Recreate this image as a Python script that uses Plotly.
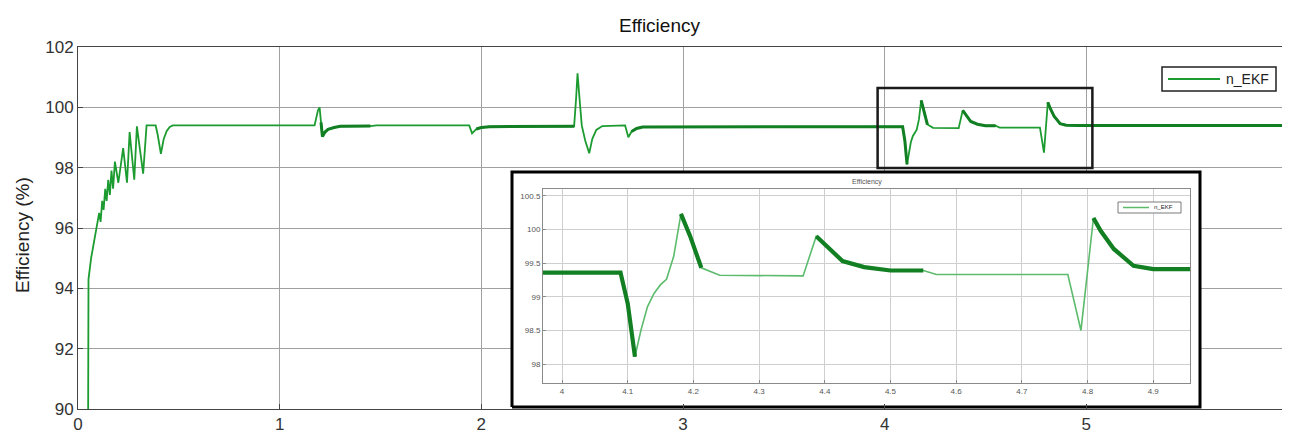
import plotly.graph_objects as go

# ---------------- data ----------------
time_s = [0.050, 0.052, 0.065, 0.080, 0.095, 0.105, 0.112, 0.120, 0.127, 0.135,
          0.142, 0.150, 0.158, 0.166, 0.174, 0.183, 0.200, 0.224, 0.243, 0.256,
          0.279, 0.292, 0.323, 0.340, 0.385, 0.395, 0.411, 0.425, 0.440, 0.455,
          0.470, 1.173, 1.190, 1.198, 1.205, 1.212, 1.225, 1.240, 1.270, 1.300,
          1.450, 1.480, 1.940, 1.954, 1.975, 2.000, 2.040, 2.460, 2.470, 2.477,
          2.488, 2.498, 2.515, 2.535, 2.550, 2.570, 2.600, 2.713, 2.729, 2.745,
          2.770, 2.800, 4.089, 4.100, 4.111, 4.120, 4.130, 4.140, 4.150, 4.159,
          4.170, 4.181, 4.195, 4.212, 4.240, 4.367, 4.387, 4.400, 4.427, 4.460,
          4.500, 4.550, 4.570, 4.770, 4.790, 4.809, 4.820, 4.840, 4.870, 4.900,
          4.960, 6.000]

efficiency = [89.0, 94.3, 95.0, 95.6, 96.1, 96.5, 96.2, 96.9, 96.6, 97.3,
              96.9, 97.6, 97.1, 97.9, 97.3, 98.2, 97.5, 98.65, 97.5, 99.18,
              97.6, 99.37, 97.8, 99.4, 99.4, 99.1, 98.46, 98.95, 99.22, 99.35,
              99.4, 99.4, 99.9, 100.0, 99.5, 99.03, 99.18, 99.27, 99.33, 99.37,
              99.38, 99.4, 99.4, 99.14, 99.28, 99.33, 99.36, 99.37, 100.3, 101.13,
              100.2, 99.4, 98.9, 98.48, 98.95, 99.25, 99.38, 99.4, 99.01, 99.2,
              99.3, 99.35, 99.36, 98.9, 98.11, 98.5, 98.85, 99.05, 99.18, 99.26,
              99.6, 100.23, 99.9, 99.43, 99.32, 99.31, 99.9, 99.78, 99.53, 99.44,
              99.39, 99.39, 99.33, 99.33, 98.5, 100.17, 99.98, 99.71, 99.46, 99.41,
              99.4, 99.4]

# 1 = segment where the signal carries visible ripple (drawn as a thick band)
noisy = [0, 0, 0, 0, 0, 0, 0, 0, 0, 0,
         0, 0, 0, 0, 0, 0, 0, 0, 0, 0,
         0, 0, 0, 0, 0, 0, 0, 0, 0, 0,
         0, 0, 0, 0, 1, 1, 1, 1, 1, 1,
         1, 0, 0, 0, 1, 1, 1, 1, 0, 0,
         0, 0, 0, 0, 0, 0, 0, 0, 0, 1,
         1, 1, 1, 1, 1, 0, 0, 0, 0, 0,
         0, 1, 1, 1, 0, 0, 1, 1, 1, 1,
         1, 1, 0, 0, 0, 1, 1, 1, 1, 1,
         1, 1]

main_xticks = [0, 1, 2, 3, 4, 5, 6]
main_yticks = [90, 92, 94, 96, 98, 100, 102]
inset_xticks = [4.0, 4.1, 4.2, 4.3, 4.4, 4.5, 4.6, 4.7, 4.8, 4.9]
inset_xtext = ["4", "4.1", "4.2", "4.3", "4.4", "4.5", "4.6", "4.7", "4.8", "4.9"]
inset_yticks = [98, 98.5, 99, 99.5, 100, 100.5]
inset_ytext = ["98", "98.5", "99", "99.5", "100", "100.5"]

series_name = "n_EKF"
title_text = "Efficiency"
ylabel_text = "Efficiency (%)"

# ---------------- layout geometry ----------------
# page body adds an 8 px offset; positions below are given in screen pixels
OFF = 8
W, H = 1290, 432
PLOT_L, PLOT_R, PLOT_T, PLOT_B = 78, 1288, 47, 409   # screen px
PW, PH = PLOT_R - PLOT_L, PLOT_B - PLOT_T
ML = PLOT_L - OFF
MT = PLOT_T - OFF
MR = W - ML - PW
MB = H - MT - PH

X_RANGE = [0, 6]
Y_RANGE = [90, 102]
INSET_X_RANGE = [3.971, 4.956]
INSET_Y_RANGE = [97.72, 100.6]
ZOOM_BOX = dict(x0=3.965, x1=5.03, y0=97.99, y1=100.64)


def fx(px):
    return (px - PLOT_L) / PW


def fy(py):
    return (PLOT_B - py) / PH


def to_main_x(px):
    return X_RANGE[0] + fx(px) * (X_RANGE[1] - X_RANGE[0])


def to_main_y(py):
    return Y_RANGE[0] + fy(py) * (Y_RANGE[1] - Y_RANGE[0])


thick = [v if n else None for v, n in zip(efficiency, noisy)]

GREEN = "#1c9c30"
DARK_GREEN = "#117f22"
LIGHT_GREEN = "#5cbb6c"

fig = go.Figure()

# main series
fig.add_trace(go.Scatter(x=time_s, y=efficiency, mode="lines", name=series_name,
                         line=dict(color=GREEN, width=1.8), xaxis="x", yaxis="y",
                         showlegend=False, hoverinfo="skip"))
fig.add_trace(go.Scatter(x=time_s, y=thick, mode="lines", connectgaps=False,
                         line=dict(color=DARK_GREEN, width=3.0), xaxis="x", yaxis="y",
                         showlegend=False, hoverinfo="skip"))

# white framed panel that holds the inset (in main-axis coordinates)
bx0, bx1 = to_main_x(512), to_main_x(1200)
by0, by1 = to_main_y(407), to_main_y(172)
fig.add_trace(go.Scatter(x=[bx0, bx1, bx1, bx0, bx0], y=[by0, by0, by1, by1, by0],
                         mode="lines", fill="toself", fillcolor="white",
                         line=dict(color="black", width=3), xaxis="x", yaxis="y",
                         showlegend=False, hoverinfo="skip"))

# inset series
fig.add_trace(go.Scatter(x=time_s, y=efficiency, mode="lines", name=series_name,
                         line=dict(color=LIGHT_GREEN, width=1.6), xaxis="x2", yaxis="y2",
                         showlegend=False, hoverinfo="skip"))
fig.add_trace(go.Scatter(x=time_s, y=thick, mode="lines", connectgaps=False,
                         line=dict(color=DARK_GREEN, width=4.2), xaxis="x2", yaxis="y2",
                         showlegend=False, hoverinfo="skip"))

FONT = "Liberation Sans, Arial, sans-serif"

# legends (boxes drawn to the reference's compact size)
LG1 = dict(x0=1162, x1=1276, y0=67, y1=91, line=52, gap=4, font=14,
           border="#222", bw=1.5, color=GREEN, lw=2)
LG2 = dict(x0=1118, x1=1181, y0=202, y1=213, line=26, gap=3, font=6,
           border="#7a7a7a", bw=1, color=LIGHT_GREEN, lw=1.5)

shapes = [
    dict(type="rect", xref="x", yref="y",
         x0=ZOOM_BOX["x0"], x1=ZOOM_BOX["x1"], y0=ZOOM_BOX["y0"], y1=ZOOM_BOX["y1"],
         line=dict(color="#1a1a1a", width=2.5), layer="above"),
]
legend_notes = []
for lg in (LG1, LG2):
    ymid = (lg["y0"] + lg["y1"]) / 2
    shapes.append(dict(type="rect", xref="paper", yref="paper",
                       x0=fx(lg["x0"]), x1=fx(lg["x1"]), y0=fy(lg["y1"]), y1=fy(lg["y0"]),
                       line=dict(color=lg["border"], width=lg["bw"]),
                       fillcolor="white", layer="above"))
    shapes.append(dict(type="line", xref="paper", yref="paper",
                       x0=fx(lg["x0"] + lg["gap"] + 2),
                       x1=fx(lg["x0"] + lg["gap"] + 2 + lg["line"]),
                       y0=fy(ymid), y1=fy(ymid),
                       line=dict(color=lg["color"], width=lg["lw"]), layer="above"))
    legend_notes.append(dict(text=series_name, xref="paper", yref="paper",
                             x=fx(lg["x0"] + 2 * lg["gap"] + 2 + lg["line"]), y=fy(ymid),
                             xanchor="left", yanchor="middle", showarrow=False,
                             font=dict(size=lg["font"], color="#222")))

fig.update_layout(
    width=W, height=H,
    margin=dict(l=ML, r=MR, t=MT, b=MB, autoexpand=False),
    paper_bgcolor="white", plot_bgcolor="white",
    font=dict(family=FONT, color="#222"),
    showlegend=False,
    xaxis=dict(domain=[0, 1], range=X_RANGE, tickvals=main_xticks,
               showgrid=True, gridcolor="#a0a0a0", gridwidth=1,
               showline=True, linecolor="#444", linewidth=1, mirror=True,
               ticks="inside", ticklen=5, tickcolor="#444",
               tickfont=dict(size=17, color="#333"), zeroline=False),
    yaxis=dict(domain=[0, 1], range=Y_RANGE, tickvals=main_yticks,
               showgrid=True, gridcolor="#a0a0a0", gridwidth=1,
               showline=True, linecolor="#444", linewidth=1, mirror=True,
               ticks="inside", ticklen=5, tickcolor="#444",
               tickfont=dict(size=17, color="#333"), zeroline=False),
    xaxis2=dict(domain=[fx(543), fx(1190)], anchor="y2", range=INSET_X_RANGE,
                tickvals=inset_xticks, ticktext=inset_xtext,
                showgrid=True, gridcolor="#cfcfcf", gridwidth=1,
                showline=True, linecolor="#8a8a8a", linewidth=1, mirror=True,
                ticks="inside", ticklen=3, tickcolor="#8a8a8a",
                tickfont=dict(size=8, color="#555"), zeroline=False),
    yaxis2=dict(domain=[fy(383), fy(189)], anchor="x2", range=INSET_Y_RANGE,
                tickvals=inset_yticks, ticktext=inset_ytext,
                showgrid=True, gridcolor="#cfcfcf", gridwidth=1,
                showline=True, linecolor="#8a8a8a", linewidth=1, mirror=True,
                ticks="inside", ticklen=3, tickcolor="#8a8a8a",
                tickfont=dict(size=8, color="#555"), zeroline=False),
    shapes=shapes,
    annotations=[
        dict(text=title_text, xref="paper", yref="paper", x=fx(659), y=fy(26),
             xanchor="center", yanchor="middle", showarrow=False,
             font=dict(size=19, color="#111")),
        dict(text=ylabel_text, xref="paper", yref="paper", x=fx(22), y=fy(235),
             xanchor="center", yanchor="middle", textangle=-90, showarrow=False,
             font=dict(size=19, color="#222")),
        dict(text=title_text, xref="paper", yref="paper", x=fx(867), y=fy(182),
             xanchor="center", yanchor="middle", showarrow=False,
             font=dict(size=7, color="#555")),
    ] + legend_notes,
)

fig.write_html("out.html")
